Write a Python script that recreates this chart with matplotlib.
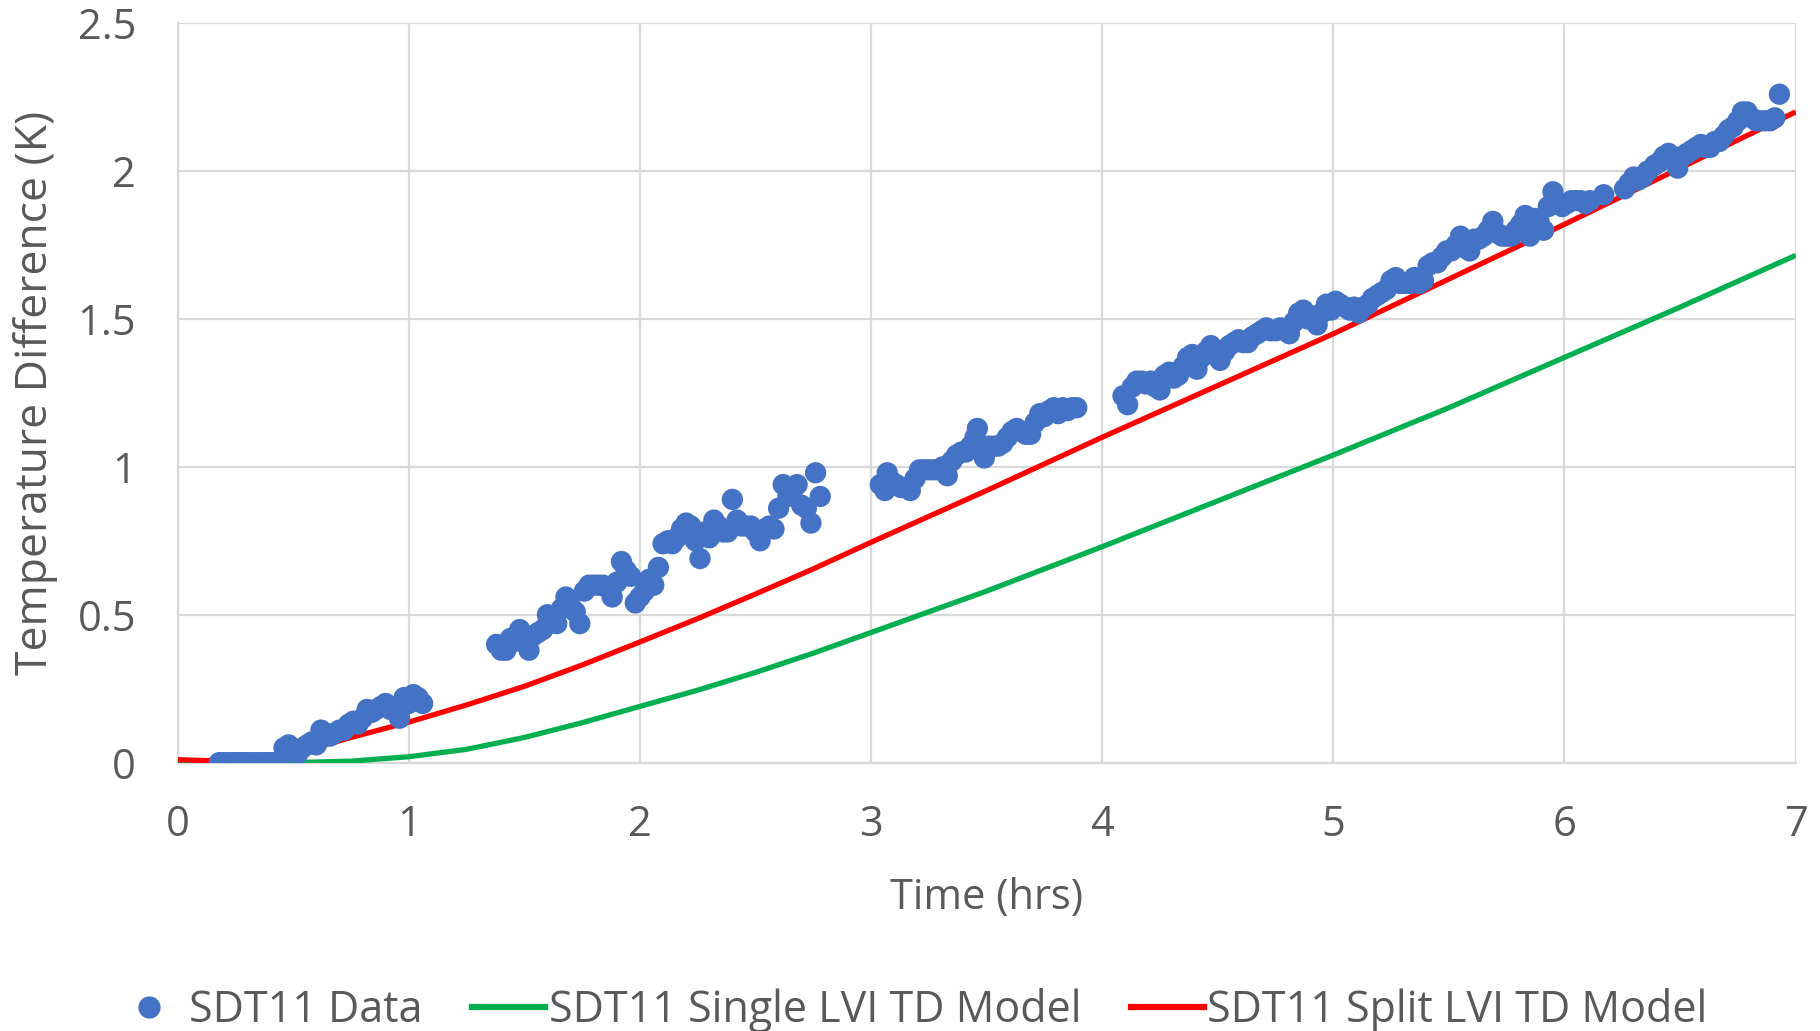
import matplotlib
matplotlib.use("Agg")
import matplotlib.pyplot as plt
from matplotlib.lines import Line2D

# Measured temperature difference (K) vs time (hrs), logged in four runs
run1_t = [0.18, 0.20, 0.22, 0.24, 0.26, 0.28, 0.30, 0.32, 0.34, 0.36, 0.38, 0.40, 0.42, 0.44,
          0.46, 0.48, 0.50, 0.52, 0.54, 0.56, 0.58, 0.60, 0.62, 0.64, 0.66, 0.68, 0.70, 0.72,
          0.74, 0.76, 0.78, 0.80, 0.82, 0.84, 0.86, 0.88, 0.90, 0.92, 0.94, 0.96, 0.98, 1.00,
          1.02, 1.04, 1.06]
run1_v = [0.00, 0.00, 0.00, 0.00, 0.00, 0.00, 0.00, 0.00, 0.00, 0.00, 0.00, 0.00, 0.00, 0.00,
          0.05, 0.06, 0.04, 0.03, 0.05, 0.06, 0.07, 0.06, 0.11, 0.10, 0.09, 0.10, 0.11, 0.11,
          0.13, 0.14, 0.13, 0.15, 0.18, 0.17, 0.18, 0.19, 0.20, 0.18, 0.19, 0.15, 0.22, 0.20,
          0.23, 0.22, 0.20]

run2_t = [1.38, 1.40, 1.42, 1.44, 1.46, 1.48, 1.50, 1.52, 1.54, 1.56, 1.58, 1.60, 1.62, 1.64,
          1.66, 1.68, 1.70, 1.72, 1.74, 1.76, 1.78, 1.80, 1.82, 1.84, 1.86, 1.88, 1.90, 1.92,
          1.94, 1.96, 1.98, 2.00, 2.02, 2.04, 2.06, 2.08, 2.10, 2.12, 2.14, 2.16, 2.18, 2.20,
          2.22, 2.24, 2.26, 2.28, 2.30, 2.32, 2.34, 2.36, 2.38, 2.40, 2.42, 2.44, 2.46, 2.48,
          2.50, 2.52, 2.54, 2.56, 2.58, 2.60, 2.62, 2.64, 2.66, 2.68, 2.70, 2.72, 2.74, 2.76,
          2.78]
run2_v = [0.40, 0.38, 0.38, 0.42, 0.41, 0.45, 0.43, 0.38, 0.43, 0.44, 0.45, 0.50, 0.48, 0.47,
          0.52, 0.56, 0.53, 0.51, 0.47, 0.58, 0.60, 0.60, 0.60, 0.60, 0.59, 0.56, 0.61, 0.68,
          0.65, 0.63, 0.54, 0.56, 0.58, 0.62, 0.60, 0.66, 0.74, 0.75, 0.74, 0.76, 0.79, 0.81,
          0.80, 0.75, 0.69, 0.78, 0.76, 0.82, 0.80, 0.78, 0.78, 0.89, 0.82, 0.80, 0.80, 0.80,
          0.78, 0.75, 0.79, 0.80, 0.79, 0.86, 0.94, 0.90, 0.92, 0.94, 0.87, 0.86, 0.81, 0.98,
          0.90]

run3_t = [3.04, 3.06, 3.07, 3.09, 3.11, 3.13, 3.15, 3.17, 3.19, 3.21, 3.23, 3.25, 3.27, 3.29,
          3.31, 3.33, 3.35, 3.37, 3.39, 3.41, 3.43, 3.45, 3.46, 3.48, 3.49, 3.51, 3.53, 3.55,
          3.57, 3.59, 3.61, 3.63, 3.65, 3.67, 3.69, 3.71, 3.73, 3.75, 3.77, 3.79, 3.81, 3.83,
          3.85, 3.87, 3.89]
run3_v = [0.94, 0.92, 0.98, 0.95, 0.94, 0.93, 0.93, 0.92, 0.96, 0.99, 0.99, 0.99, 0.99, 0.99,
          1.00, 0.97, 1.02, 1.04, 1.05, 1.05, 1.07, 1.10, 1.13, 1.06, 1.03, 1.07, 1.07, 1.07,
          1.08, 1.10, 1.12, 1.13, 1.12, 1.11, 1.11, 1.15, 1.18, 1.17, 1.19, 1.20, 1.18, 1.20,
          1.19, 1.20, 1.20]

run4_t = [4.09, 4.11, 4.13, 4.15, 4.17, 4.19, 4.21, 4.23, 4.25, 4.27, 4.29, 4.31, 4.33, 4.35,
          4.37, 4.39, 4.41, 4.43, 4.45, 4.47, 4.49, 4.51, 4.53, 4.55, 4.57, 4.59, 4.61, 4.63,
          4.65, 4.67, 4.69, 4.71, 4.73, 4.75, 4.77, 4.79, 4.81, 4.83, 4.85, 4.87, 4.89, 4.91,
          4.93, 4.95, 4.97, 4.99, 5.01, 5.03, 5.05, 5.07, 5.09, 5.11, 5.13, 5.15, 5.17, 5.19,
          5.21, 5.23, 5.25, 5.27, 5.29, 5.31, 5.33, 5.35, 5.37, 5.39, 5.41, 5.43, 5.45, 5.47,
          5.49, 5.51, 5.53, 5.55, 5.57, 5.59, 5.61, 5.63, 5.65, 5.67, 5.69, 5.71, 5.73, 5.75,
          5.77, 5.79, 5.81, 5.83, 5.85, 5.87, 5.89, 5.91, 5.93, 5.95, 5.97, 5.99, 6.01, 6.03,
          6.05, 6.07, 6.09, 6.11, 6.17, 6.26, 6.28, 6.30, 6.32, 6.34, 6.36, 6.39, 6.41, 6.43,
          6.45, 6.47, 6.49, 6.51, 6.53, 6.55, 6.57, 6.59, 6.61, 6.63, 6.65, 6.67, 6.69, 6.71,
          6.73, 6.75, 6.77, 6.79, 6.81, 6.83, 6.85, 6.87, 6.89, 6.91, 6.93]
run4_v = [1.24, 1.21, 1.27, 1.29, 1.29, 1.28, 1.29, 1.27, 1.26, 1.31, 1.32, 1.30, 1.31, 1.34,
          1.37, 1.38, 1.33, 1.37, 1.39, 1.41, 1.38, 1.36, 1.39, 1.41, 1.42, 1.43, 1.42, 1.42,
          1.44, 1.45, 1.46, 1.47, 1.46, 1.46, 1.47, 1.46, 1.45, 1.49, 1.52, 1.53, 1.50, 1.51,
          1.48, 1.52, 1.55, 1.53, 1.56, 1.55, 1.54, 1.53, 1.54, 1.52, 1.54, 1.55, 1.57, 1.58,
          1.59, 1.60, 1.63, 1.64, 1.62, 1.62, 1.62, 1.64, 1.62, 1.63, 1.68, 1.69, 1.69, 1.71,
          1.73, 1.73, 1.75, 1.78, 1.74, 1.73, 1.77, 1.77, 1.78, 1.80, 1.83, 1.79, 1.78, 1.78,
          1.78, 1.80, 1.82, 1.85, 1.78, 1.84, 1.83, 1.80, 1.88, 1.93, 1.89, 1.88, 1.89, 1.90,
          1.90, 1.90, 1.89, 1.90, 1.92, 1.94, 1.96, 1.98, 1.97, 1.98, 2.00, 2.02, 2.03, 2.05,
          2.06, 2.04, 2.01, 2.05, 2.06, 2.07, 2.08, 2.09, 2.08, 2.08, 2.10, 2.10, 2.12, 2.14,
          2.15, 2.17, 2.20, 2.20, 2.18, 2.17, 2.17, 2.17, 2.17, 2.18, 2.26]

data_t = run1_t + run2_t + run3_t + run4_t
data_v = run1_v + run2_v + run3_v + run4_v

# Model curves
model_t = [0.0, 0.25, 0.5, 0.75, 1.0, 1.25, 1.5, 1.75, 2.0, 2.25, 2.5, 2.75, 3.0, 3.5,
           4.0, 4.5, 5.0, 5.5, 6.0, 6.5, 7.0]
single_v = [0.0, 0.0, 0.0, 0.005, 0.02, 0.045, 0.085, 0.135, 0.19, 0.245, 0.305, 0.37,
            0.44, 0.58, 0.73, 0.885, 1.04, 1.20, 1.37, 1.54, 1.715]
split_v = [0.01, 0.004, 0.03, 0.085, 0.137, 0.195, 0.258, 0.33, 0.408, 0.487, 0.57, 0.655,
           0.745, 0.92, 1.10, 1.275, 1.45, 1.635, 1.82, 2.01, 2.20]

x_ticks = [0, 1, 2, 3, 4, 5, 6, 7]
y_ticks = [0, 0.5, 1, 1.5, 2, 2.5]
y_tick_labels = ["0", "0.5", "1", "1.5", "2", "2.5"]

BLUE = "#4472C4"
GREEN = "#00B050"
RED = "#FF0000"
TEXT = "#595959"
GRID = "#D9D9D9"

plt.rcParams["font.family"] = ["Open Sans", "DejaVu Sans"]

fig = plt.figure(figsize=(18.2, 10.31), dpi=100)
ax = fig.add_axes([0.0976, 0.2603, 0.889, 0.7172])

ax.plot(model_t, single_v, color=GREEN, lw=3.8, zorder=3, solid_capstyle="butt")
ax.plot(model_t, split_v, color=RED, lw=3.8, zorder=3, solid_capstyle="butt")
ax.scatter(data_t, data_v, s=235, color=BLUE, edgecolors="none", zorder=4)

ax.set_xlim(0, 7)
ax.set_ylim(0, 2.5)
ax.set_xticks(x_ticks)
ax.set_yticks(y_ticks)
ax.set_yticklabels(y_tick_labels)
ax.grid(True, color=GRID, lw=1.6, zorder=0)
ax.set_axisbelow(True)
for side in ["top", "right"]:
    ax.spines[side].set_visible(False)
for side in ["left", "bottom"]:
    ax.spines[side].set_color(GRID)
    ax.spines[side].set_linewidth(1.6)
ax.tick_params(length=0, labelsize=30, labelcolor=TEXT)
ax.tick_params(axis="x", pad=30)
ax.tick_params(axis="y", pad=30)
ax.set_xlabel("Time (hrs)", fontsize=30, color=TEXT, labelpad=22)
ax.set_ylabel("Temperature Difference (K)", fontsize=32, color=TEXT, labelpad=14)

handles = [
    Line2D([], [], ls="none", marker="o", ms=15, color=BLUE, label="SDT11 Data"),
    Line2D([], [], color=GREEN, lw=4.5, label="SDT11 Single LVI TD Model"),
    Line2D([], [], color=RED, lw=4.5, label="SDT11 Split LVI TD Model"),
]
fig.legend(handles=handles, loc="center", bbox_to_anchor=(0.5, 0.02), ncol=3,
           frameon=False, fontsize=31, labelcolor=TEXT, handlelength=1.7,
           handletextpad=0.08, columnspacing=1.15)

fig.savefig("out.png", dpi=100, facecolor="white")
